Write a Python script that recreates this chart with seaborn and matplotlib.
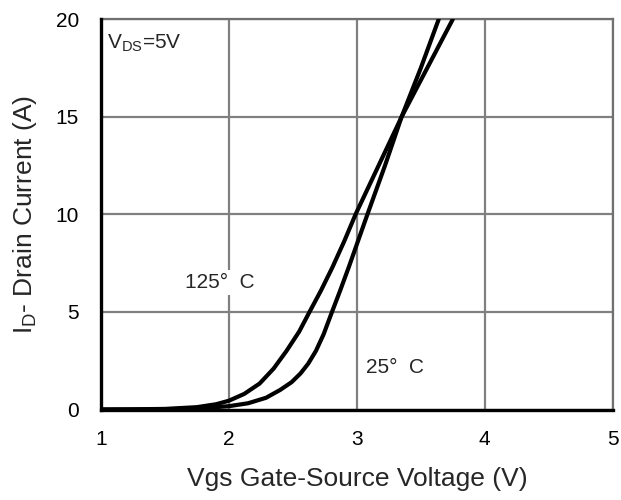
import matplotlib
matplotlib.use("Agg")
import matplotlib.pyplot as plt
import seaborn as sns
import pandas as pd

# Transfer characteristics: drain current vs gate-source voltage
vgs_125 = [1.0, 1.25, 1.5, 1.75, 1.9, 2.0, 2.12, 2.24, 2.35, 2.45, 2.55, 2.63,
           2.72, 2.81, 2.9, 2.99, 3.17, 3.35, 3.55, 3.75]
id_125 = [0.0, 0.01, 0.03, 0.12, 0.27, 0.45, 0.8, 1.33, 2.1, 3.0, 4.0, 5.0,
          6.1, 7.3, 8.6, 10.0, 12.5, 15.0, 17.5, 20.0]

vgs_25 = [1.0, 1.25, 1.5, 1.75, 2.0, 2.15, 2.29, 2.4, 2.49, 2.56, 2.62, 2.68,
          2.74, 2.8, 2.87, 2.94, 3.01, 3.08, 3.22, 3.35, 3.5, 3.64]
id_25 = [0.0, 0.0, 0.01, 0.05, 0.17, 0.32, 0.6, 1.0, 1.4, 1.85, 2.35, 3.0,
         3.85, 4.9, 6.1, 7.35, 8.65, 9.95, 12.5, 15.0, 17.5, 20.0]

x_ticks = [1, 2, 3, 4, 5]
y_ticks = [0, 5, 10, 15, 20]

df = pd.concat([
    pd.DataFrame({"Vgs": vgs_125, "Id": id_125, "T": "125C"}),
    pd.DataFrame({"Vgs": vgs_25, "Id": id_25, "T": "25C"}),
])

sns.set_style("white")
plt.rcParams["font.family"] = ["Liberation Sans", "DejaVu Sans"]
plt.rcParams["mathtext.fontset"] = "custom"
plt.rcParams["mathtext.rm"] = "Liberation Sans"

fig = plt.figure(figsize=(6.21, 5.0), dpi=100)
ax = fig.add_axes([0.1626, 0.181, 0.824, 0.7804])

sns.lineplot(data=df, x="Vgs", y="Id", hue="T", palette=["black", "black"],
             linewidth=3.0, legend=False, ax=ax, sort=False, zorder=3)

ax.set_xlim(1, 5)
ax.set_ylim(0, 20)
ax.set_xticks(x_ticks)
ax.set_yticks(y_ticks)
ax.set_xticklabels([str(v) for v in x_ticks])
ax.set_yticklabels([str(v) for v in y_ticks])
ax.grid(True, color="#808080", linewidth=1.6)
ax.set_axisbelow(True)
ax.tick_params(axis="both", length=0, labelsize=15, colors="black")
ax.tick_params(axis="x", pad=15)
ax.tick_params(axis="y", pad=16)

for side in ("top", "right"):
    ax.spines[side].set_color("#707070")
    ax.spines[side].set_linewidth(1.6)
for side in ("left", "bottom"):
    ax.spines[side].set_color("black")
    ax.spines[side].set_linewidth(2.4)
    ax.spines[side].set_zorder(4)

ax.set_xlabel("Vgs Gate-Source Voltage (V)", fontsize=19, labelpad=13)
ax.set_ylabel(r"I$_{\mathregular{D}}$- Drain Current (A)", fontsize=19, labelpad=12)

ax.text(1.05, 18.8, r"V$_{\mathregular{DS}}$=5V", fontsize=15, va="center", ha="left")
ax.text(1.66, 6.5, "125°  C", fontsize=15, va="center", ha="left", zorder=2,
        bbox=dict(facecolor="white", edgecolor="none", pad=2))
ax.text(3.07, 2.15, "25°  C", fontsize=15, va="center", ha="left", zorder=2,
        bbox=dict(facecolor="white", edgecolor="none", pad=2))

fig.savefig("out.png", dpi=100)
